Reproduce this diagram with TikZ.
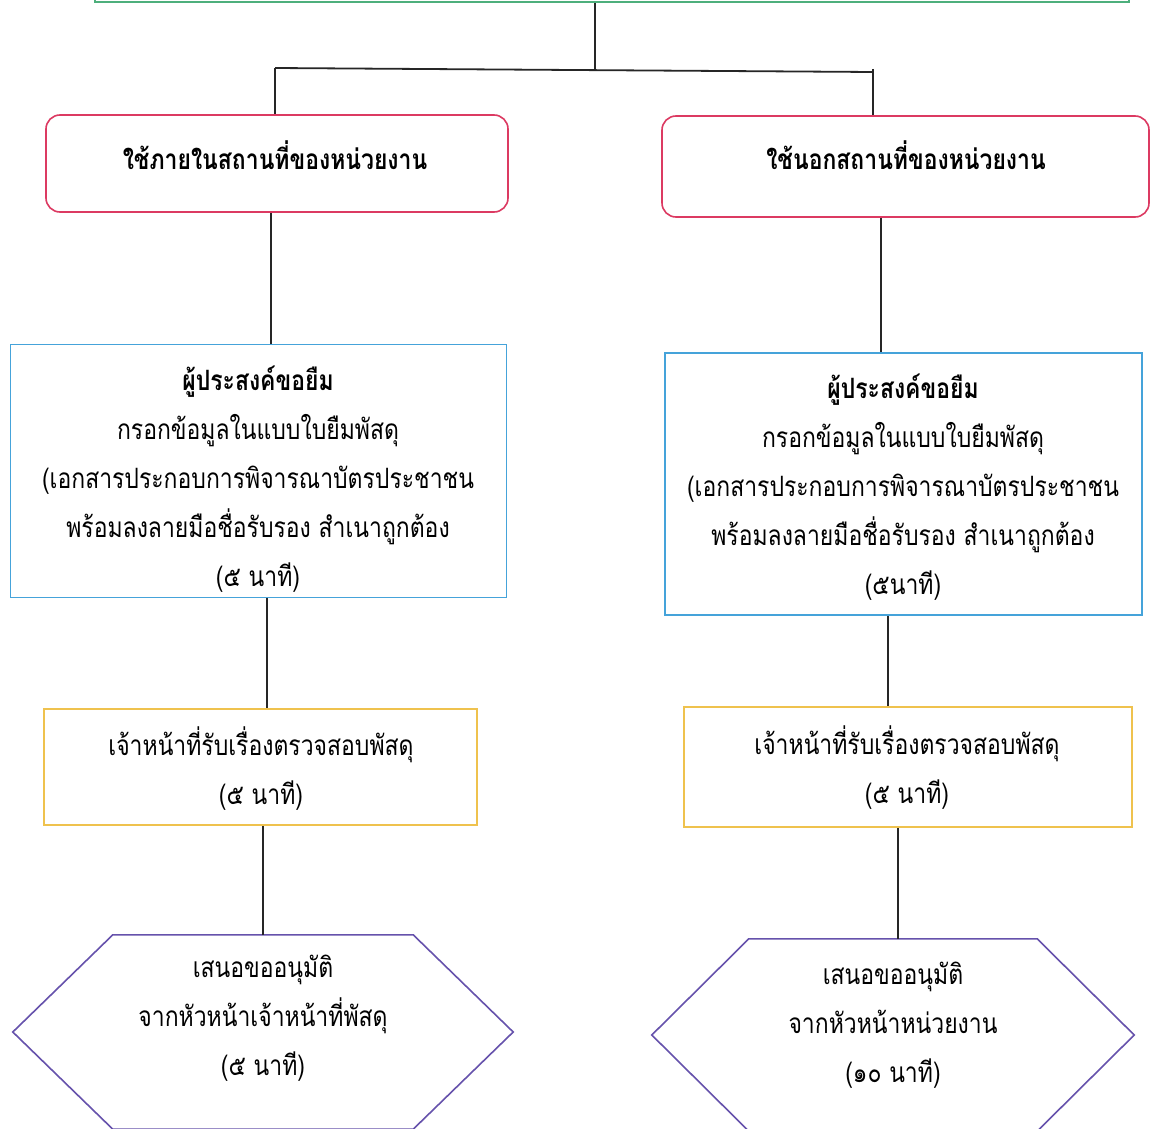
\documentclass[tikz,border=0pt]{standalone}
\usepackage{fontspec}
\newfontfamily\thaifont[Script=Thai, FakeStretch=0.82]{Loma}
\usetikzlibrary{calc}
\definecolor{cgreen}{HTML}{4DAF7C}
\definecolor{cred}{HTML}{DC3A62}
\definecolor{cblue}{HTML}{45A3DA}
\definecolor{cyellow}{HTML}{EFC24E}
\definecolor{cpurple}{HTML}{6652AC}
\begin{document}
\begin{tikzpicture}[x=1pt,y=-1pt,
  box/.style={draw, line width=1.6pt, inner sep=0pt},
  conn/.style={draw=black!85, line width=1.8pt},
  txt/.style={font=\thaifont\fontsize{28}{49}\selectfont, align=center, inner sep=0pt},
  ttl/.style={font=\thaifont\bfseries\fontsize{28}{49}\selectfont, align=center, inner sep=0pt}
]
\useasboundingbox[fill=white] (0,0) rectangle (1151,1129);

% top (green) box, only its bottom edge is visible
\node[box, draw=cgreen, line width=2pt, minimum width=1034pt, minimum height=42pt] (green) at (612,-19) {};

% red rounded boxes
\node[box, draw=cred, rounded corners=14pt, minimum width=462pt, minimum height=97pt] (redL) at (277,163.5) {};
\node[box, draw=cred, rounded corners=14pt, minimum width=487pt, minimum height=101pt] (redR) at (905.5,166.5) {};
\node[ttl] (tRedL) at (275,155) {ใช้ภายในสถานที่ของหน่วยงาน};
\node[ttl] (tRedR) at (906,155) {ใช้นอกสถานที่ของหน่วยงาน};

% blue boxes
\node[box, draw=cblue, minimum width=496pt, minimum height=253pt] (blueL) at (258.5,471) {};
\node[box, draw=cblue, minimum width=477pt, minimum height=262pt] (blueR) at (903.5,484) {};
\node[txt] (tBlueL) at (258,479) {{\bfseries ผู้ประสงค์ขอยืม}\\กรอกข้อมูลในแบบใบยืมพัสดุ\\(เอกสารประกอบการพิจารณาบัตรประชาชน\\พร้อมลงลายมือชื่อรับรอง สำเนาถูกต้อง\\(๕ นาที)};
\node[txt] (tBlueR) at (903,487) {{\bfseries ผู้ประสงค์ขอยืม}\\กรอกข้อมูลในแบบใบยืมพัสดุ\\(เอกสารประกอบการพิจารณาบัตรประชาชน\\พร้อมลงลายมือชื่อรับรอง สำเนาถูกต้อง\\(๕นาที)};

% yellow boxes
\node[box, draw=cyellow, minimum width=433pt, minimum height=116pt] (yelL) at (260.5,767) {};
\node[box, draw=cyellow, minimum width=448pt, minimum height=120pt] (yelR) at (908,767) {};
\node[txt] (tYelL) at (261,768.5) {เจ้าหน้าที่รับเรื่องตรวจสอบพัสดุ\\(๕ นาที)};
\node[txt] (tYelR) at (907,767.5) {เจ้าหน้าที่รับเรื่องตรวจสอบพัสดุ\\(๕ นาที)};

% hexagons
\node[minimum width=500pt, minimum height=194pt, inner sep=0pt] (hexL) at (263,1032) {};
\node[minimum width=482pt, minimum height=192pt, inner sep=0pt] (hexR) at (893,1035) {};
\draw[cpurple, line width=1.6pt, line join=miter]
  (hexL.west) -- ($(hexL.north west)+(100,0)$) -- ($(hexL.north east)+(-100,0)$) --
  (hexL.east) -- ($(hexL.south east)+(-100,0)$) -- ($(hexL.south west)+(100,0)$) -- cycle;
\draw[cpurple, line width=1.6pt, line join=miter]
  (hexR.west) -- ($(hexR.north west)+(97,0)$) -- ($(hexR.north east)+(-97,0)$) --
  (hexR.east) -- ($(hexR.south east)+(-97,0)$) -- ($(hexR.south west)+(97,0)$) -- cycle;
\node[txt] (tHexL) at (263,1018.5) {เสนอขออนุมัติ\\จากหัวหน้าเจ้าหน้าที่พัสดุ\\(๕ นาที)};
\node[txt] (tHexR) at (893,1025) {เสนอขออนุมัติ\\จากหัวหน้าหน่วยงาน\\(๑๐ นาที)};

% connectors
\coordinate (jT) at (595,70);
\coordinate (jL) at (275,68);
\coordinate (jR) at (873,72);
\draw[conn] (green.south -| jT) -- (jT);
\draw[conn] (jL) -- (jR);
\draw[conn] (jL) -- (jL |- redL.north);
\draw[conn] ($(jR)+(0,-3)$) -- (jR |- redR.north);

\coordinate (xa) at (271,0);
\coordinate (xb) at (881,0);
\coordinate (xc) at (267,0);
\coordinate (xd) at (888,0);
\coordinate (xe) at (263,0);
\coordinate (xf) at (898,0);
\draw[conn] (xa |- redL.south) -- (xa |- blueL.north);
\draw[conn] (xb |- redR.south) -- (xb |- blueR.north);
\draw[conn] (xc |- blueL.south) -- (xc |- yelL.north);
\draw[conn] (xd |- blueR.south) -- (xd |- yelR.north);
\draw[conn] (xe |- yelL.south) -- (xe |- hexL.north);
\draw[conn] (xf |- yelR.south) -- (xf |- hexR.north);
\end{tikzpicture}
\end{document}
